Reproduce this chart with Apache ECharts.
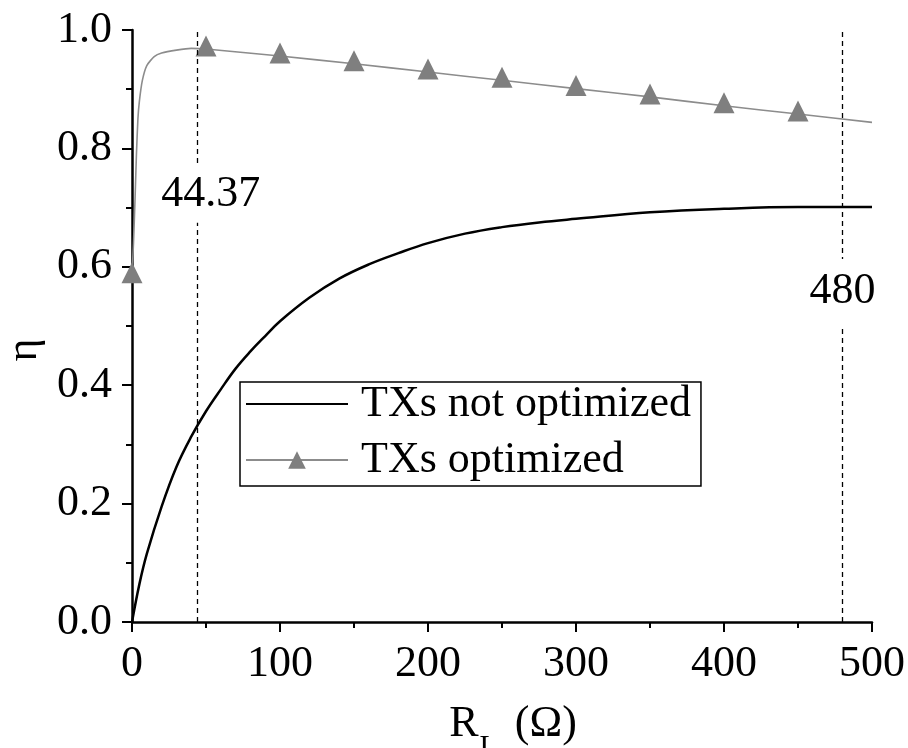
<!DOCTYPE html>
<html>
<head>
<meta charset="utf-8">
<script src="https://cdn.jsdelivr.net/npm/echarts@6/dist/echarts.min.js"></script>
<style>
  html, body { margin: 0; padding: 0; background: #fff; }
  #chart { width: 908px; height: 748px; }
</style>
</head>
<body>
<div id="chart"></div>
<script>
// values
const notOptX = [0, 5, 10, 20, 30, 40, 50, 60, 70, 80, 90, 100, 120, 140, 160, 180, 200, 225, 250, 275, 300, 350, 400, 450, 500];
const notOptY = [0, 0.064, 0.115, 0.195, 0.262, 0.313, 0.356, 0.393, 0.428, 0.457, 0.483, 0.508, 0.548, 0.580, 0.604, 0.623, 0.640, 0.656, 0.667, 0.675, 0.681, 0.692, 0.698, 0.701, 0.701];

const optX = [0, 1, 2, 3, 4, 5, 7, 10, 15, 20, 30, 40, 50, 100, 150, 200, 250, 300, 350, 400, 450, 500];
const optY = [0.585, 0.64, 0.71, 0.79, 0.85, 0.88, 0.915, 0.94, 0.955, 0.961, 0.966, 0.969, 0.968, 0.956, 0.943, 0.929, 0.915, 0.901, 0.887, 0.872, 0.858, 0.844];
const markerEvery = 50; // triangles only drawn on these x
const lastMarkerX = 450;

const refLines = [44.37, 480];
const refLabelY = [0.725, 0.561];

const xTicks = { min: 0, max: 500, interval: 100 };
const yTicks = { min: 0, max: 1, interval: 0.2 };

const font = 'Liberation Serif';
const fs = 44;

const chart = echarts.init(document.getElementById('chart'));

const optData = optX.map((x, i) => {
    const hasMark = x % markerEvery === 0 && x <= lastMarkerX;
    return hasMark ? { value: [x, optY[i]] } : { value: [x, optY[i]], symbol: 'none' };
});

const option = {
    animation: false,
    grid: { left: 132, right: 36, top: 30, bottom: 126, containLabel: false, outerBoundsMode: 'none' },
    legend: {
        orient: 'vertical',
        left: 240,
        top: 382,
        padding: [0, 10, 4, 5],
        backgroundColor: '#fff',
        borderColor: '#000',
        borderWidth: 1.5,
        borderRadius: 0,
        itemWidth: 102,
        itemHeight: 22,
        itemGap: 12,
        textStyle: { fontFamily: font, fontSize: fs, color: '#000', padding: [0, 0, 0, 8] },
        data: [
            { name: 'TXs not optimized', itemStyle: { color: 'rgba(0,0,0,0)', borderWidth: 0 } },
            'TXs optimized'
        ]
    },
    xAxis: {
        type: 'value',
        min: xTicks.min, max: xTicks.max, interval: xTicks.interval,
        name: '{r|R}{s|L}{r| (Ω)}',
        nameLocation: 'middle',
        nameGap: 64,
        nameTextStyle: {
            padding: [0, 0, 0, 22],
            rich: {
                r: { fontFamily: font, fontSize: fs, color: '#000' },
                s: { fontFamily: font, fontSize: 30, color: '#000', padding: [46, 6, 0, 1] }
            }
        },
        axisLine: { onZero: false, lineStyle: { color: '#000', width: 2.5 } },
        axisTick: { inside: false, length: 10, lineStyle: { color: '#000', width: 2 } },
        minorTick: { show: true, splitNumber: 2, length: 6, lineStyle: { color: '#000', width: 2 } },
        axisLabel: { fontFamily: font, fontSize: fs, color: '#000', margin: 20 },
        splitLine: { show: false }
    },
    yAxis: {
        type: 'value',
        min: yTicks.min, max: yTicks.max, interval: yTicks.interval,
        name: 'η',
        nameLocation: 'middle',
        nameRotate: 90,
        nameGap: 82,
        nameTextStyle: { fontFamily: font, fontSize: fs, color: '#000', padding: [0, 48, 0, 0] },
        axisLine: { onZero: false, lineStyle: { color: '#000', width: 2.5 } },
        axisTick: { inside: false, length: 10, lineStyle: { color: '#000', width: 2 } },
        minorTick: { show: true, splitNumber: 2, length: 6, lineStyle: { color: '#000', width: 2 } },
        axisLabel: { fontFamily: font, fontSize: fs, color: '#000', margin: 20, formatter: v => v.toFixed(1) },
        splitLine: { show: false }
    },
    series: [
        {
            name: 'TXs not optimized',
            type: 'line',
            data: notOptX.map((x, i) => [x, notOptY[i]]),
            smooth: 0.4,
            showSymbol: false,
            symbol: 'none',
            lineStyle: { color: '#000', width: 2.5 },
            itemStyle: { color: '#000' },
            z: 3,
            markLine: {
                silent: true,
                symbol: 'none',
                label: { show: false },
                lineStyle: { color: '#000', width: 1.3, type: [5, 4] },
                data: refLines.map(v => ({ xAxis: v }))
            },
            markPoint: {
                z: 10,
                silent: true,
                symbol: 'rect',
                symbolSize: 1,
                itemStyle: { color: 'rgba(0,0,0,0)' },
                data: refLines.map((v, i) => ({
                    coord: [v, refLabelY[i]],
                    label: {
                        show: true,
                        position: 'inside',
                        formatter: String(v),
                        fontFamily: font,
                        fontSize: fs,
                        color: '#000',
                        backgroundColor: '#fff',
                        padding: i === 0 ? [6, 0, 6, 0] : [10, 0, 12, 0],
                        offset: i === 0 ? [13, 2] : [0, 2]
                    }
                }))
            }
        },
        {
            name: 'TXs optimized',
            type: 'line',
            data: optData,
            smooth: 0.2,
            symbol: 'triangle',
            symbolSize: 21,
            symbolOffset: [0, -3],
            showAllSymbol: true,
            lineStyle: { color: '#8c8c8c', width: 1.6 },
            itemStyle: { color: '#7f7f7f' },
            z: 4
        }
    ]
};

option && chart.setOption(option);
</script>
</body>
</html>
